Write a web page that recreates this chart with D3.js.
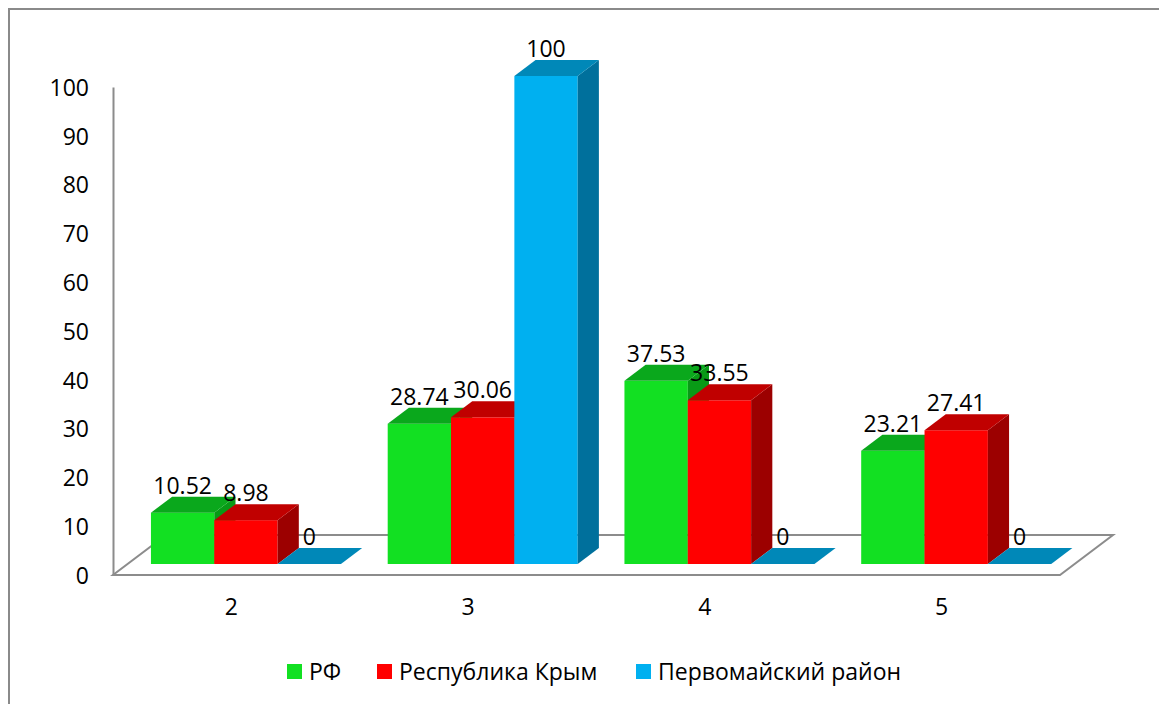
<!DOCTYPE html>
<html>
<head>
<meta charset="utf-8">
<script src="https://cdn.jsdelivr.net/npm/d3@7"></script>
<style>
  body { margin: 0; background: #ffffff; }
  text { font-family: "Open Sans", "Noto Sans", sans-serif; fill: #000; }
</style>
</head>
<body>
<script>
// data
var categories = ["2", "3", "4", "5"];
var seriesNames = ["РФ", "Республика Крым", "Первомайский район"];
var rfValues = [10.52, 28.74, 37.53, 23.21];
var crimeaValues = [8.98, 30.06, 33.55, 27.41];
var pervomayValues = [0, 100, 0, 0];
var yTicks = [0, 10, 20, 30, 40, 50, 60, 70, 80, 90, 100];

// colours: front, top, side
var frontColors = ["#12e022", "#ff0000", "#00b0f0"];
var topColors = ["#0aa81c", "#c00000", "#0088b8"];
var sideColors = ["#089a16", "#9c0000", "#00709c"];

var w = 1159, h = 704;
var left = 113, right = 1060;
var floorY = 575;
var floorDx = 53, floorDy = -40;      // depth of the floor
var barFront = 0.275, barDepth = 0.4; // bar position inside the depth

var allValues = [rfValues, crimeaValues, pervomayValues];

var svg = d3.select("body").append("svg")
  .attr("width", w)
  .attr("height", h);

// outer frame
svg.append("rect")
  .attr("x", 9).attr("y", 9)
  .attr("width", 1180).attr("height", 720)
  .attr("fill", "none")
  .attr("stroke", "#8a8a8a")
  .attr("stroke-width", 2);

var x = d3.scaleBand().domain(categories).range([left, right]);
var y = d3.scaleLinear().domain([0, 100]).range([floorY, 87]);
var groupWidth = 190;
var xs = d3.scaleBand().domain(seriesNames).range([0, groupWidth]);

// floor
var fl = [[left, floorY], [right, floorY], [right + floorDx, floorY + floorDy], [left + floorDx, floorY + floorDy]];
svg.append("polygon")
  .attr("points", fl.map(function(p) { return p.join(","); }).join(" "))
  .attr("fill", "#ffffff")
  .attr("stroke", "#8c8c8c")
  .attr("stroke-width", 2);

// y axis
var yAxis = d3.axisLeft(y).tickValues(yTicks).tickSize(0).tickPadding(24);
var gy = svg.append("g")
  .attr("transform", "translate(" + left + ",0)")
  .call(yAxis);
gy.select(".domain").attr("stroke", "#8c8c8c").attr("stroke-width", 2);
gy.selectAll("text").style("font-size", "23px").attr("dy", "0.36em");

// x labels
var xAxis = d3.axisBottom(x).tickSize(0).tickPadding(24);
var gx = svg.append("g")
  .attr("transform", "translate(0," + floorY + ")")
  .call(xAxis);
gx.select(".domain").remove();
gx.selectAll("text").style("font-size", "23px");

// bars, drawn left to right so right bars cover left side faces
var offX = floorDx * barFront, offY = floorDy * barFront;
var dX = floorDx * barDepth, dY = floorDy * barDepth;
var bars = [];
categories.forEach(function(c, ci) {
  seriesNames.forEach(function(s, si) {
    var x0 = x(c) + (x.bandwidth() - groupWidth) / 2 + xs(s) + offX;
    var x1 = x0 + xs.bandwidth();
    var v = allValues[si][ci];
    var yb = y(0) + offY;
    var yt = y(v) + offY;
    bars.push({ c: c, si: si, v: v, x0: x0, x1: x1, yb: yb, yt: yt });
  });
});

var g = svg.append("g");
bars.forEach(function(b) {
  if (b.v > 0) {
    g.append("rect")
      .attr("x", b.x0).attr("y", b.yt)
      .attr("width", b.x1 - b.x0).attr("height", b.yb - b.yt)
      .attr("fill", frontColors[b.si]);
    g.append("polygon")
      .attr("points", [[b.x1, b.yt], [b.x1 + dX, b.yt + dY], [b.x1 + dX, b.yb + dY], [b.x1, b.yb]].join(" "))
      .attr("fill", sideColors[b.si]);
  }
  g.append("polygon")
    .attr("points", [[b.x0, b.yt], [b.x1, b.yt], [b.x1 + dX, b.yt + dY], [b.x0 + dX, b.yt + dY]].join(" "))
    .attr("fill", topColors[b.si]);
});

// value labels
svg.append("g").selectAll("text")
  .data(bars)
  .enter()
  .append("text")
  .attr("x", function(d) { return (d.x0 + d.x1) / 2; })
  .attr("y", function(d) { return d.yt + dY - 3; })
  .style("text-anchor", "middle")
  .style("font-size", "23px")
  .text(function(d) { return d.v; });

// legend
var legendX = [287, 377, 636];
var legend = svg.append("g");
seriesNames.forEach(function(s, i) {
  legend.append("rect")
    .attr("x", legendX[i]).attr("y", 664)
    .attr("width", 15).attr("height", 15)
    .attr("fill", frontColors[i]);
  legend.append("text")
    .attr("x", legendX[i] + 22).attr("y", 680)
    .style("font-size", "23px")
    .text(s);
});
</script>
</body>
</html>
